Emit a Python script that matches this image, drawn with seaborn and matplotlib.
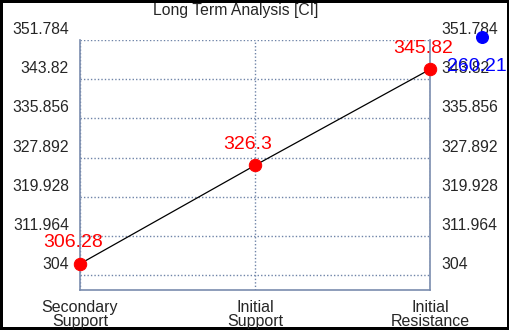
import matplotlib
matplotlib.use("Agg")
import matplotlib.pyplot as plt
import matplotlib.transforms as mtransforms
import seaborn as sns
import pandas as pd

categories = ["Secondary\nSupport", "Initial\nSupport", "Initial\nResistance"]
levels = [306.28, 326.3, 345.82]
level_labels = ["306.28", "326.3", "345.82"]
yticks = [304, 311.964, 319.928, 327.892, 335.856, 343.82, 351.784]
ytick_labels = ["304", "311.964", "319.928", "327.892", "335.856", "343.82", "351.784"]
current_x = 2.3
current_y = 352.3
current_label = "260.21"

df = pd.DataFrame({"pos": range(len(categories)), "level": levels})

sns.set_style("white")
plt.rcParams["font.family"] = ["Liberation Sans", "DejaVu Sans"]

fig = plt.figure(figsize=(5.1, 3.3), dpi=100, edgecolor="black", linewidth=3)
ax = fig.add_axes([80 / 510, 40 / 330, 350 / 510, 250 / 330])

sns.lineplot(data=df, x="pos", y="level", color="black", linewidth=0.9, ax=ax)
sns.scatterplot(data=df, x="pos", y="level", color="red", s=80, edgecolor="red",
                zorder=5, ax=ax, clip_on=False)
ax.scatter([current_x], [current_y], color="blue", s=70, zorder=5, clip_on=False)

for x, y, t in zip(df["pos"], levels, level_labels):
    ax.annotate(t, (x, y), xytext=(-5, 9), textcoords="offset points",
                ha="center", va="bottom", color="red", fontsize=14, annotation_clip=False)
ax.annotate(current_label, (current_x, current_y), xytext=(-4, -21),
            textcoords="offset points", ha="center", va="center", color="blue",
            fontsize=14, annotation_clip=False)

ax.set_xlim(0, 2)
ax.set_ylim(300.96, 351.784)
ax.set_xticks(range(len(categories)))
ax.set_xticklabels(categories, fontsize=11.5, linespacing=0.95)
ax.set_yticks(yticks)
ax.set_yticklabels(ytick_labels, fontsize=11.3)
ax.tick_params(axis="y", length=0, pad=8, labelright=True, labelleft=True)
ax.tick_params(axis="x", length=0, pad=7)
ax.set_xlabel("")
ax.set_ylabel("")

shift = mtransforms.ScaledTranslation(0, 12 / 100, fig.dpi_scale_trans)
for tick in ax.yaxis.get_major_ticks():
    tick.label1.set_transform(tick.label1.get_transform() + shift)
    tick.label2.set_transform(tick.label2.get_transform() + shift)

ax.grid(True, color="#6f84a8", linestyle=(0, (1, 1.5)), linewidth=1)
for side in ["left", "right", "bottom"]:
    ax.spines[side].set_color("#7a8cae")
    ax.spines[side].set_linewidth(1.2)
ax.spines["top"].set_visible(False)

fig.text(236 / 510, 1 - 10 / 330, "Long Term Analysis [CI]", ha="center", va="center", fontsize=11.3)

fig.savefig("out.png", dpi=100, edgecolor=fig.get_edgecolor())
